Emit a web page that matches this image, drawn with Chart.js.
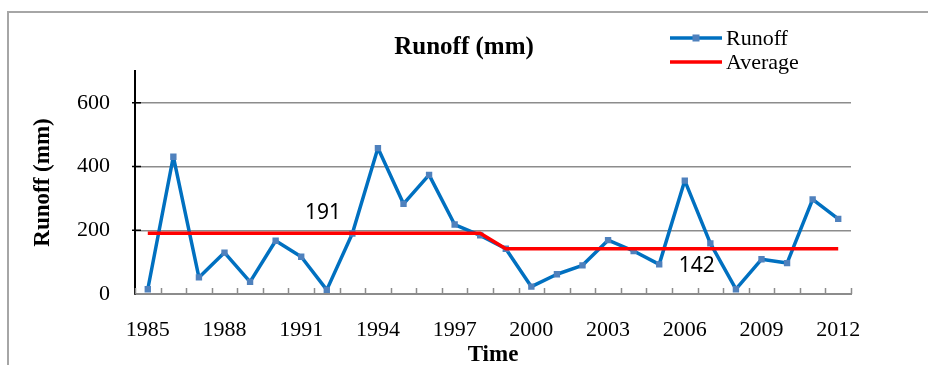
<!DOCTYPE html>
<html>
<head>
<meta charset="utf-8">
<title>Runoff (mm)</title>
<script src="https://cdn.jsdelivr.net/npm/chart.js@4.4.1/dist/chart.umd.min.js"></script>
<style>
  html, body { margin: 0; padding: 0; background: #fff; }
  canvas { display: block; }
</style>
</head>
<body>
<canvas id="runoff-chart" width="928" height="365"></canvas>
<script>
/* Runoff por año con la media de cada periodo */

const years = ['1985', '1986', '1987', '1988', '1989', '1990', '1991', '1992', '1993', '1994',
  '1995', '1996', '1997', '1998', '1999', '2000', '2001', '2002', '2003', '2004',
  '2005', '2006', '2007', '2008', '2009', '2010', '2011', '2012'];

const runoff = [15, 431, 52, 130, 38, 167, 117, 13, 190, 458,
  283, 374, 218, 184, 142, 23, 62, 90, 169, 135,
  93, 356, 159, 15, 109, 97, 297, 236];

const average = [191, 191, 191, 191, 191, 191, 191, 191, 191, 191,
  191, 191, 191, 191, 142, 142, 142, 142, 142, 142,
  142, 142, 142, 142, 142, 142, 142, 142];

const xTickLabels = ['1985', '1988', '1991', '1994', '1997', '2000', '2003', '2006', '2009', '2012'];
const yTickValues = [0, 200, 400, 600];

const SERIF = '"Liberation Serif", "Times New Roman", serif';
const BLUE = '#0070C0';
const MARKER = '#4F81BD';
const RED = '#FF0000';
const GRID = '#8c8c8c';

// marco gris exterior
const framePlugin = {
  id: 'frame',
  beforeDraw(chart) {
    const ctx = chart.ctx;
    ctx.save();
    ctx.strokeStyle = '#a6a6a6';
    ctx.lineWidth = 2;
    ctx.strokeRect(8, 12, 1200, 800);
    ctx.restore();
  },
};

// marcas cortas hacia dentro en ambos ejes
const innerTicksPlugin = {
  id: 'innerTicks',
  afterDatasetsDraw(chart) {
    const { ctx, chartArea, scales } = chart;
    const x = scales.x;
    const y = scales.y;
    ctx.save();
    ctx.strokeStyle = GRID;
    ctx.lineWidth = 1.5;
    ctx.beginPath();
    for (let i = 0; i <= years.length; i++) {
      const px = Math.round(x.getPixelForValue(i - 0.5)) + 0.5;
      ctx.moveTo(px, chartArea.bottom);
      ctx.lineTo(px, chartArea.bottom - 6);
    }
    ctx.stroke();
    ctx.strokeStyle = '#000';
    ctx.beginPath();
    yTickValues.slice(1).forEach((v) => {
      const py = y.getPixelForValue(v);
      ctx.moveTo(chartArea.left - 3, py);
      ctx.lineTo(chartArea.left + 6, py);
    });
    ctx.stroke();
    ctx.restore();
  },
};

// valores de la media escritos junto a la línea roja
const averageLabelsPlugin = {
  id: 'averageLabels',
  afterDatasetsDraw(chart) {
    const { ctx, scales } = chart;
    const primero = average[0];
    const segundo = average[average.length - 1];
    ctx.save();
    ctx.fillStyle = '#000';
    ctx.font = '21px "Noto Sans", sans-serif';
    ctx.textAlign = 'center';
    ctx.textBaseline = 'middle';
    ctx.fillText(String(primero), scales.x.getPixelForValue(6.85), scales.y.getPixelForValue(primero) - 20);
    ctx.fillText(String(segundo), scales.x.getPixelForValue(21.47), scales.y.getPixelForValue(segundo) + 17);
    ctx.restore();
  },
};

// leyenda arriba a la derecha, a la altura del título
const legendPlugin = {
  id: 'sideLegend',
  afterDraw(chart) {
    const ctx = chart.ctx;
    const items = chart.data.datasets.map((ds) => ({
      label: ds.label,
      color: ds.borderColor,
      marker: ds.pointRadius > 0 ? ds.pointBackgroundColor : null,
    }));
    ctx.save();
    ctx.font = '22px ' + SERIF;
    ctx.textBaseline = 'middle';
    ctx.textAlign = 'left';
    items.forEach((item, i) => {
      const yy = 38 + i * 24;
      ctx.strokeStyle = item.color;
      ctx.lineWidth = 3.5;
      ctx.beginPath();
      ctx.moveTo(670, yy);
      ctx.lineTo(722, yy);
      ctx.stroke();
      if (item.marker) {
        ctx.fillStyle = item.marker;
        ctx.fillRect(696 - 3.5, yy - 3.5, 7, 7);
      }
      ctx.fillStyle = '#000';
      ctx.fillText(item.label, 726, yy + 1);
    });
    ctx.restore();
  },
};

new Chart(document.getElementById('runoff-chart'), {
  type: 'line',
  data: {
    labels: years,
    datasets: [
      {
        label: 'Runoff',
        data: runoff,
        borderColor: BLUE,
        borderWidth: 3.5,
        borderJoinStyle: 'round',
        tension: 0,
        pointStyle: 'rect',
        pointRadius: 4.5,
        pointBackgroundColor: MARKER,
        pointBorderColor: MARKER,
        pointBorderWidth: 0,
        order: 1,
      },
      {
        label: 'Average',
        data: average,
        borderColor: RED,
        borderWidth: 3.5,
        borderJoinStyle: 'round',
        tension: 0,
        pointRadius: 0,
        order: 0,
      },
    ],
  },
  options: {
    responsive: false,
    animation: false,
    layout: { padding: 0 },
    plugins: {
      legend: { display: false },
      tooltip: { enabled: false },
      title: {
        display: true,
        text: 'Runoff (mm)',
        color: '#000',
        font: { family: SERIF, size: 25, weight: 'bold', lineHeight: 1.2 },
        padding: { top: 33, bottom: 8 },
      },
    },
    scales: {
      x: {
        type: 'category',
        offset: true,
        grid: { display: false, drawTicks: false },
        border: { display: true, color: GRID, width: 2 },
        ticks: {
          autoSkip: false,
          maxRotation: 0,
          color: '#000',
          padding: 23,
          font: { family: SERIF, size: 22 },
          callback: (value, index) => (xTickLabels.includes(years[index]) ? years[index] : ''),
        },
        title: {
          display: true,
          text: 'Time',
          color: '#000',
          font: { family: SERIF, size: 23, weight: 'bold', lineHeight: 0.85 },
          padding: { top: 0, bottom: 0 },
        },
        afterFit: (scale) => { scale.height = 71; },
      },
      y: {
        min: 0,
        max: 700,
        afterBuildTicks: (scale) => {
          scale.ticks = yTickValues.map((v) => ({ value: v }));
        },
        grid: { color: GRID, lineWidth: 1.5, drawTicks: false },
        border: { display: true, color: '#000', width: 2 },
        ticks: {
          color: '#000',
          padding: 25,
          font: { family: SERIF, size: 22 },
        },
        title: {
          display: true,
          text: 'Runoff (mm)',
          color: '#000',
          font: { family: SERIF, size: 23, weight: 'bold', lineHeight: 1.2 },
          padding: { top: 29, bottom: 0 },
        },
        afterFit: (scale) => { scale.width = 135; },
      },
      // eje derecho vacío: solo reserva el margen de la derecha
      yMargen: {
        position: 'right',
        min: 0,
        max: 700,
        grid: { display: false, drawTicks: false },
        border: { display: false },
        ticks: { display: false },
        afterFit: (scale) => { scale.width = 77; },
      },
    },
  },
  plugins: [framePlugin, innerTicksPlugin, averageLabelsPlugin, legendPlugin],
});
</script>
</body>
</html>
